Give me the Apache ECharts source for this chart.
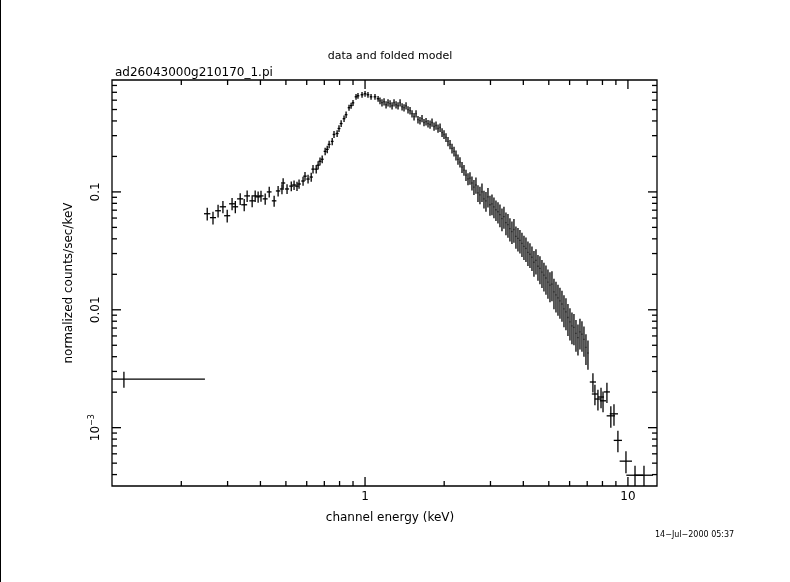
<!DOCTYPE html>
<html>
<head>
<meta charset="utf-8">
<script src="https://cdn.jsdelivr.net/npm/echarts@6/dist/echarts.min.js"></script>
<style>
  html, body { margin: 0; padding: 0; background: #fff; }
  #chart { width: 790px; height: 582px; }
</style>
</head>
<body>
<div id="chart"></div>
<script>
// axis ranges (keV, counts/sec/keV)
const xMin = 0.109, xMax = 12.9
const yMin = 3.2e-4, yMax = 0.89

// channel energy (keV)
const energy = [
  0.121,
  0.251, 0.264, 0.276, 0.288, 0.299, 0.312, 0.321, 0.335, 0.347, 0.356, 0.372, 0.382, 0.392, 0.402, 0.417, 0.432,
  0.451, 0.467, 0.483, 0.488, 0.505, 0.524, 0.537, 0.551, 0.561, 0.581, 0.591, 0.607, 0.624, 0.634, 0.652, 0.663,
  0.674, 0.687, 0.705, 0.718, 0.730, 0.750, 0.762, 0.783, 0.796, 0.811, 0.832, 0.847, 0.869, 0.885, 0.900, 0.924,
  0.940, 0.974, 1.000, 1.026, 1.054, 1.091, 1.121,
  1.140, 1.160, 1.181, 1.202, 1.223, 1.245, 1.267, 1.289, 1.312, 1.335, 1.359, 1.383, 1.407, 1.432, 1.457, 1.483,
  1.509, 1.536, 1.563, 1.590, 1.618, 1.647, 1.676, 1.706, 1.736, 1.767, 1.798, 1.830, 1.862, 1.895, 1.929, 1.963,
  1.997, 2.032, 2.068, 2.105, 2.142, 2.180, 2.218, 2.257, 2.297, 2.338, 2.379, 2.421, 2.464, 2.507, 2.551, 2.596,
  2.642, 2.689, 2.736, 2.785, 2.834, 2.884, 2.935, 2.987, 3.040, 3.093, 3.148, 3.204, 3.260, 3.318, 3.376, 3.436,
  3.497, 3.558, 3.621, 3.685, 3.750, 3.817, 3.884, 3.953, 4.023, 4.094, 4.166, 4.240, 4.315, 4.391, 4.469, 4.548,
  4.628, 4.710, 4.793, 4.878, 4.964, 5.052, 5.141, 5.232, 5.325, 5.419, 5.514, 5.612, 5.711, 5.812, 5.914, 6.019,
  6.125, 6.233, 6.344, 6.456, 6.570, 6.686, 6.804, 6.924, 7.047,
  7.36, 7.49, 7.69, 7.90, 8.04, 8.32, 8.61, 8.85, 9.16, 9.83, 10.64, 11.51
]
// bin half-widths below / above the channel energy (keV)
const energyErrLo = [
  0.012,
  0.007, 0.007, 0.007, 0.008, 0.008, 0.008, 0.008, 0.009, 0.009, 0.009, 0.009, 0.009, 0.009, 0.009, 0.009, 0.009,
  0.009, 0.009, 0.009, 0.009, 0.009, 0.009, 0.009, 0.009, 0.009, 0.009, 0.009, 0.009, 0.009, 0.009, 0.009, 0.009,
  0.009, 0.009, 0.009, 0.009, 0.009, 0.009, 0.009, 0.010, 0.010, 0.010, 0.010, 0.010, 0.010, 0.010, 0.010, 0.011,
  0.011, 0.012, 0.012, 0.012, 0.012, 0.013, 0.013,
  0.005, 0.005, 0.005, 0.005, 0.005, 0.005, 0.005, 0.005, 0.005, 0.005, 0.005, 0.005, 0.005, 0.006, 0.006, 0.006,
  0.006, 0.006, 0.006, 0.006, 0.006, 0.006, 0.006, 0.006, 0.006, 0.007, 0.007, 0.007, 0.007, 0.007, 0.007, 0.007,
  0.007, 0.007, 0.007, 0.008, 0.008, 0.008, 0.008, 0.008, 0.008, 0.008, 0.008, 0.009, 0.009, 0.009, 0.009, 0.009,
  0.009, 0.009, 0.009, 0.010, 0.010, 0.010, 0.010, 0.010, 0.010, 0.011, 0.011, 0.011, 0.011, 0.011, 0.011, 0.012,
  0.012, 0.012, 0.012, 0.012, 0.013, 0.013, 0.013, 0.013, 0.013, 0.014, 0.014, 0.014, 0.014, 0.014, 0.015, 0.015,
  0.015, 0.015, 0.016, 0.016, 0.016, 0.016, 0.017, 0.017, 0.017, 0.018, 0.018, 0.018, 0.018, 0.019, 0.019, 0.019,
  0.020, 0.020, 0.020, 0.021, 0.021, 0.021, 0.022, 0.022, 0.022,
  0.20, 0.20, 0.21, 0.21, 0.22, 0.22, 0.31, 0.32, 0.33, 0.53, 0.78, 0.94
]
const energyErrHi = [
  0.125,
  0.007, 0.007, 0.007, 0.008, 0.008, 0.008, 0.008, 0.009, 0.009, 0.009, 0.009, 0.009, 0.009, 0.009, 0.009, 0.009,
  0.009, 0.009, 0.009, 0.009, 0.009, 0.009, 0.009, 0.009, 0.009, 0.009, 0.009, 0.009, 0.009, 0.009, 0.009, 0.009,
  0.009, 0.009, 0.009, 0.009, 0.009, 0.009, 0.009, 0.010, 0.010, 0.010, 0.010, 0.010, 0.010, 0.010, 0.010, 0.011,
  0.011, 0.012, 0.012, 0.012, 0.012, 0.013, 0.013,
  0.005, 0.005, 0.005, 0.005, 0.005, 0.005, 0.005, 0.005, 0.005, 0.005, 0.005, 0.005, 0.005, 0.006, 0.006, 0.006,
  0.006, 0.006, 0.006, 0.006, 0.006, 0.006, 0.006, 0.006, 0.006, 0.007, 0.007, 0.007, 0.007, 0.007, 0.007, 0.007,
  0.007, 0.007, 0.007, 0.008, 0.008, 0.008, 0.008, 0.008, 0.008, 0.008, 0.008, 0.009, 0.009, 0.009, 0.009, 0.009,
  0.009, 0.009, 0.009, 0.010, 0.010, 0.010, 0.010, 0.010, 0.010, 0.011, 0.011, 0.011, 0.011, 0.011, 0.011, 0.012,
  0.012, 0.012, 0.012, 0.012, 0.013, 0.013, 0.013, 0.013, 0.013, 0.014, 0.014, 0.014, 0.014, 0.014, 0.015, 0.015,
  0.015, 0.015, 0.016, 0.016, 0.016, 0.016, 0.017, 0.017, 0.017, 0.018, 0.018, 0.018, 0.018, 0.019, 0.019, 0.019,
  0.020, 0.020, 0.020, 0.021, 0.021, 0.021, 0.022, 0.022, 0.022,
  0.20, 0.20, 0.21, 0.21, 0.22, 0.22, 0.31, 0.32, 0.33, 0.53, 0.78, 0.94
]
// normalized counts/sec/keV
const counts = [
  2.58e-3,
  0.0653, 0.0605, 0.0692, 0.0748, 0.0628, 0.0793, 0.0748, 0.0873, 0.0778, 0.0925, 0.084, 0.0925, 0.0908, 0.0925, 0.0873, 0.1,
  0.084, 0.1019, 0.1059, 0.119, 0.1059, 0.112, 0.1145, 0.112, 0.1167, 0.1237, 0.136, 0.1286, 0.1337, 0.156, 0.156, 0.1686,
  0.182, 0.1893, 0.2208, 0.2296, 0.2532, 0.2682, 0.3072, 0.313, 0.345, 0.380, 0.418, 0.452, 0.518, 0.539, 0.570, 0.641,
  0.654, 0.667, 0.680, 0.667, 0.641, 0.641, 0.617,
  0.593, 0.571, 0.582, 0.549, 0.571, 0.560, 0.538, 0.571, 0.549, 0.538, 0.571, 0.528, 0.518, 0.538, 0.498, 0.489,
  0.461, 0.435, 0.461, 0.411, 0.403, 0.419, 0.388, 0.395, 0.380, 0.373, 0.388, 0.359, 0.366, 0.345, 0.352, 0.319,
  0.307, 0.290, 0.268, 0.253, 0.234, 0.221, 0.205, 0.189, 0.179, 0.162, 0.153, 0.139, 0.129, 0.131, 0.119, 0.110,
  0.1145, 0.0981, 0.0944, 0.1, 0.0873, 0.084, 0.0908, 0.0778, 0.0793, 0.0748, 0.0706, 0.0679, 0.0641, 0.0593, 0.0617, 0.0549,
  0.0528, 0.0489, 0.0461, 0.048, 0.0419, 0.0403, 0.0388, 0.0366, 0.0345, 0.0332, 0.0307, 0.0296, 0.0279, 0.0253, 0.0263, 0.0234,
  0.0225, 0.0209, 0.0197, 0.0186, 0.0172, 0.0162, 0.0165, 0.0142, 0.0134, 0.0126, 0.0119, 0.0112, 0.0102, 0.0096, 0.0086, 0.0079,
  0.0073, 0.0071, 0.0063, 0.0058, 0.0065, 0.0062, 0.0056, 0.0048, 0.0043,
  2.44e-3, 1.93e-3, 1.75e-3, 1.82e-3, 1.69e-3, 2.01e-3, 1.26e-3, 1.31e-3, 7.8e-4, 5.2e-4, 3.95e-4, 3.95e-4
]
// 1-sigma errors on counts
const countsErr = [
  4.0e-4,
  0.0080, 0.0075, 0.0085, 0.0090, 0.0078, 0.0095, 0.0090, 0.0100, 0.0092, 0.0105, 0.0098, 0.0105, 0.0100, 0.0100, 0.0095, 0.0105,
  0.0090, 0.0105, 0.0105, 0.0115, 0.0100, 0.0105, 0.0105, 0.0100, 0.0105, 0.0110, 0.0118, 0.0110, 0.0115, 0.0130, 0.0128, 0.0135,
  0.0142, 0.0145, 0.0165, 0.0168, 0.0180, 0.0188, 0.0210, 0.0210, 0.0228, 0.0245, 0.0265, 0.0280, 0.0310, 0.0320, 0.0335, 0.0370,
  0.0370, 0.0375, 0.0380, 0.0372, 0.0360, 0.0360, 0.0350,
  0.040, 0.040, 0.041, 0.039, 0.040, 0.040, 0.038, 0.040, 0.039, 0.038, 0.040, 0.037, 0.037, 0.038, 0.035, 0.035,
  0.033, 0.031, 0.033, 0.030, 0.029, 0.030, 0.028, 0.029, 0.028, 0.030, 0.031, 0.029, 0.030, 0.028, 0.029, 0.027,
  0.026, 0.025, 0.024, 0.023, 0.022, 0.021, 0.020, 0.019, 0.018, 0.017, 0.016, 0.015, 0.015, 0.016, 0.016, 0.016,
  0.018, 0.016, 0.016, 0.018, 0.015, 0.016, 0.017, 0.015, 0.016, 0.015, 0.014, 0.014, 0.014, 0.013, 0.013, 0.012,
  0.012, 0.011, 0.010, 0.011, 0.009, 0.009, 0.0088, 0.0085, 0.0080, 0.0078, 0.0072, 0.0070, 0.0066, 0.0062, 0.0064, 0.0058,
  0.0060, 0.0056, 0.0054, 0.0052, 0.0048, 0.0046, 0.0047, 0.0041, 0.0039, 0.0037, 0.0035, 0.0033, 0.0031, 0.0029, 0.0026, 0.0024,
  0.0022, 0.0021, 0.0019, 0.0017, 0.0019, 0.0018, 0.0016, 0.0014, 0.0012,
  4.5e-4, 3.8e-4, 3.5e-4, 3.6e-4, 3.4e-4, 3.9e-4, 2.6e-4, 2.7e-4, 1.6e-4, 1.1e-4, 0.8e-4, 0.8e-4
]

// tick values
const xTicks = [0.2, 0.3, 0.4, 0.5, 0.6, 0.7, 0.8, 0.9, 1, 2, 3, 4, 5, 6, 7, 8, 9, 10]
const xMajor = [1, 10]
const yTicks = [4e-4, 5e-4, 6e-4, 7e-4, 8e-4, 9e-4, 1e-3, 2e-3, 3e-3, 4e-3, 5e-3, 6e-3, 7e-3, 8e-3, 9e-3,
  0.01, 0.02, 0.03, 0.04, 0.05, 0.06, 0.07, 0.08, 0.09, 0.1, 0.2, 0.3, 0.4, 0.5, 0.6, 0.7, 0.8]
const yMajor = [1e-3, 0.01, 0.1]
const xLabels = [[1, '1'], [10, '10']]
const yLabels = [[0.1, '0.1'], [0.01, '0.01'], [1e-3, '{b|10}{s|−3}']]

const font = 'DejaVu Sans'
const ink = '#000'

const chart = echarts.init(document.getElementById('chart'))

const points = energy.map((e, i) => [e, counts[i], energyErrLo[i], energyErrHi[i], countsErr[i]])

const tickData = []
xTicks.forEach(v => tickData.push([v, 0, xMajor.includes(v) ? 1 : 0]))
yTicks.forEach(v => tickData.push([v, 1, yMajor.includes(v) ? 1 : 0]))

const lineStyle = { stroke: ink, lineWidth: 1.3 }

chart.setOption({
  animation: false,
  backgroundColor: '#fff',
  grid: { left: 112, right: 133, top: 80, bottom: 96, show: true, borderColor: ink, borderWidth: 1.3, backgroundColor: 'transparent' },
  xAxis: {
    type: 'log', logBase: 10, min: xMin, max: xMax,
    axisLine: { show: false }, axisTick: { show: false }, axisLabel: { show: false }, splitLine: { show: false }
  },
  yAxis: {
    type: 'log', logBase: 10, min: yMin, max: yMax,
    axisLine: { show: false }, axisTick: { show: false }, axisLabel: { show: false }, splitLine: { show: false }
  },
  title: [
    { text: 'data and folded model', left: 385, top: 46, textAlign: 'center',
      textStyle: { fontFamily: font, fontSize: 11, fontWeight: 'normal', color: ink } },
    { text: 'ad26043000g210170_1.pi', left: 110, top: 62,
      textStyle: { fontFamily: font, fontSize: 12, fontWeight: 'normal', color: ink } },
    { text: 'channel energy (keV)', left: 385, top: 507, textAlign: 'center',
      textStyle: { fontFamily: font, fontSize: 12, fontWeight: 'normal', color: ink } },
    { text: '14−Jul−2000 05:37', left: 650, top: 526,
      textStyle: { fontFamily: font, fontSize: 8, fontWeight: 'normal', color: ink } }
  ],
  graphic: [
    { type: 'text', x: 69, y: 283, rotation: Math.PI / 2,
      style: { text: 'normalized counts/sec/keV', font: '12px ' + font, fill: ink, align: 'center', verticalAlign: 'middle' } },
    { type: 'rect', shape: { x: 0, y: 0, width: 1, height: 582 }, style: { fill: ink } }
  ],
  series: [
    {
      type: 'custom',
      silent: true,
      data: points,
      renderItem: (params, api) => {
        const e = api.value(0), c = api.value(1)
        const l = api.coord([e - api.value(2), c])
        const r = api.coord([e + api.value(3), c])
        const top = api.coord([e, Math.min(c + api.value(4), yMax)])
        const bot = api.coord([e, Math.max(c - api.value(4), yMin)])
        return {
          type: 'group',
          children: [
            { type: 'line', shape: { x1: l[0], y1: l[1], x2: r[0], y2: r[1] }, style: lineStyle },
            { type: 'line', shape: { x1: top[0], y1: top[1], x2: bot[0], y2: bot[1] }, style: lineStyle }
          ]
        }
      }
    },
    {
      type: 'custom',
      silent: true,
      data: tickData,
      renderItem: (params, api) => {
        const v = api.value(0), isY = api.value(1) === 1, len = api.value(2) ? 9 : 5
        if (!isY) {
          const b = api.coord([v, yMin]), t = api.coord([v, yMax])
          return { type: 'group', children: [
            { type: 'line', shape: { x1: b[0], y1: b[1], x2: b[0], y2: b[1] - len }, style: lineStyle },
            { type: 'line', shape: { x1: t[0], y1: t[1], x2: t[0], y2: t[1] + len }, style: lineStyle }
          ] }
        }
        const lp = api.coord([xMin, v]), rp = api.coord([xMax, v])
        return { type: 'group', children: [
          { type: 'line', shape: { x1: lp[0], y1: lp[1], x2: lp[0] + len, y2: lp[1] }, style: lineStyle },
          { type: 'line', shape: { x1: rp[0], y1: rp[1], x2: rp[0] - len, y2: rp[1] }, style: lineStyle }
        ] }
      }
    },
    {
      type: 'custom',
      silent: true,
      data: xLabels.map(d => [d[0], 0, d[1]]).concat(yLabels.map(d => [d[0], 1, d[1]])),
      renderItem: (params, api) => {
        const item = params.dataIndex < xLabels.length ? xLabels[params.dataIndex] : yLabels[params.dataIndex - xLabels.length]
        const isY = params.dataIndex >= xLabels.length
        const p = isY ? api.coord([xMin, item[0]]) : api.coord([item[0], yMin])
        return {
          type: 'text',
          x: isY ? p[0] - 16 : p[0],
          y: isY ? p[1] : p[1] + 11,
          rotation: isY ? Math.PI / 2 : 0,
          style: {
            text: item[1], font: '12px ' + font, fill: ink, align: 'center', verticalAlign: 'middle',
            rich: { b: { fontFamily: font, fontSize: 12 }, s: { fontFamily: font, fontSize: 8, verticalAlign: 'top', padding: [0, 0, 8, 0] } }
          }
        }
      }
    }
  ]
})
</script>
</body>
</html>
